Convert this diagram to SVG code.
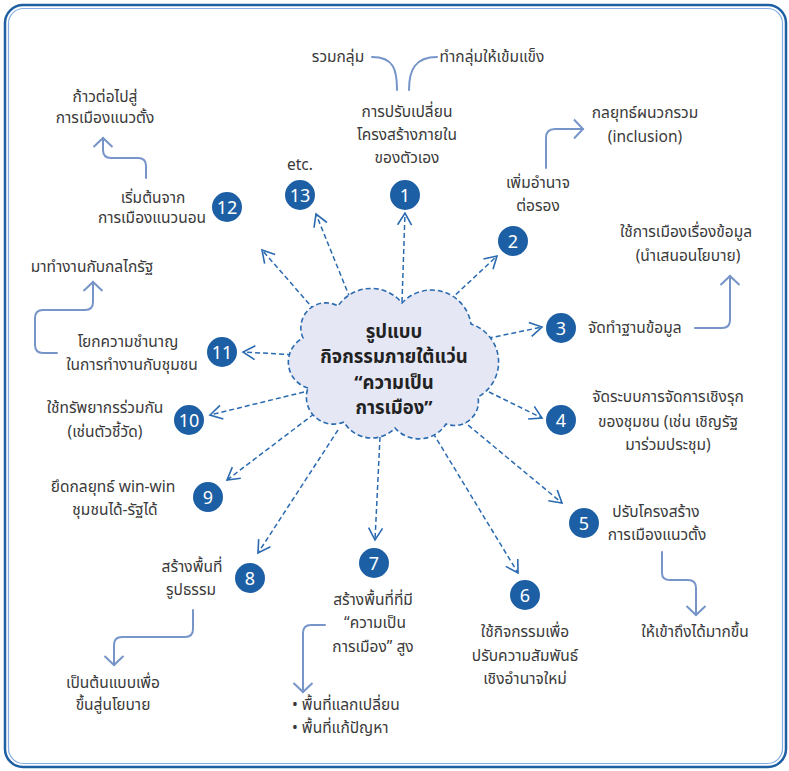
<svg xmlns="http://www.w3.org/2000/svg" width="789" height="771" viewBox="0 0 789 771">
<defs>
<style>
.t{font-family:"Noto Sans Thai","Noto Sans","DejaVu Sans",sans-serif;font-size:15.5px;fill:#3a3a3a;text-anchor:middle}
.ts{text-anchor:start}
.title{font-family:"Noto Sans Thai","Noto Sans","DejaVu Sans",sans-serif;font-size:18.5px;font-weight:bold;fill:#222;text-anchor:middle}
.num{font-family:"Noto Sans","Open Sans",sans-serif;font-size:18px;fill:#fff;text-anchor:middle}
.badge{fill:#1d5fa4}
.dash{fill:none;stroke:#2a6ab0;stroke-width:1.5;stroke-dasharray:5 3;marker-end:url(#ah)}
.solid{fill:none;stroke:#7795c9;stroke-width:2;stroke-linecap:round}
.arr{marker-end:url(#sh)}
</style>
<marker id="ah" markerUnits="userSpaceOnUse" markerWidth="20" markerHeight="20" viewBox="-14 -10 16 20" refX="0" refY="0" orient="auto">
<path d="M-12,-7 L0,0 L-12,7" fill="none" stroke="#2a6ab0" stroke-width="1.6"/>
</marker>
<marker id="sh" markerUnits="userSpaceOnUse" markerWidth="24" markerHeight="24" viewBox="-12 -12 14 24" refX="0" refY="0" orient="auto">
<path d="M-9,-9.5 L0,0 L-9,9.5" fill="none" stroke="#7795c9" stroke-width="2"/>
</marker>
</defs>
<rect x="0" y="0" width="789" height="771" fill="#fff"/>
<rect x="5" y="5" width="781" height="762" rx="18" fill="none" stroke="#1f5fa3" stroke-width="2.5"/>
<rect x="8.5" y="8.5" width="774" height="755" rx="15" fill="none" stroke="#86aee0" stroke-width="1.2"/>

<g id="connectors">
<path class="dash" d="M402,302 L405,213"/>
<path class="dash" d="M350,298 L316,214"/>
<path class="dash" d="M325,322 L262,250"/>
<path class="dash" d="M316,356 L243,352"/>
<path class="dash" d="M304,392 L210,415"/>
<path class="dash" d="M314,414 L227,480"/>
<path class="dash" d="M338,430 L258,553"/>
<path class="dash" d="M380,437 L375,540"/>
<path class="dash" d="M433,433 L518,573"/>
<path class="dash" d="M462,420 L562,503"/>
<path class="dash" d="M489,392 L542,418"/>
<path class="dash" d="M480,340 L542,327"/>
<path class="dash" d="M450,300 L497,256"/>
<path class="solid" d="M372,57 C394,57 397,70 397,90"/>
<path class="solid" d="M437,57 C415,57 409,70 409,90"/>
<path class="solid arr" d="M546,168 L546,138 Q546,129 555,129 L583,129"/>
<path class="solid arr" d="M146,178 L146,166 Q146,158 138,158 L111,158 Q103,158 103,150 L103,138"/>
<path class="solid arr" d="M695,328 L722,328 Q730,328 730,320 L730,276"/>
<path class="solid arr" d="M57,353 L43,353 Q35,353 35,345 L35,318 Q35,310 43,310 L85,310 Q93,310 93,302 L93,282"/>
<path class="solid arr" d="M662,552 L662,573 Q662,580 670,580 L688,580 Q696,580 696,588 L696,615"/>
<path class="solid arr" d="M193,610 L193,629 Q193,637 185,637 L122,637 Q114,637 114,645 L114,665"/>
<path class="solid arr" d="M325,625 L311,625 Q303,625 303,633 L303,692"/>
</g>

<g id="center">
<path d="M308,388 A27,27 0 0 1 303,338 A25,25 0 0 1 338,306 A40,40 0 0 1 402,303 A40,40 0 0 1 471,324 A40,40 0 0 1 478,397 A24,24 0 0 1 446,424 A32,32 0 0 1 395,428 A32,32 0 0 1 344,422 A27,27 0 0 1 308,388 Z" fill="#e5e7f4" stroke="#2a6ab0" stroke-width="1.6" stroke-dasharray="5 3"/>
<text class="title" x="394" y="338">รูปแบบ</text>
<text class="title" x="394" y="363">กิจกรรมภายใต้แว่น</text>
<text class="title" x="394" y="389">“ความเป็น</text>
<text class="title" x="394" y="414">การเมือง”</text>
</g>

<g id="n1">
<text class="t" x="338" y="62">รวมกลุ่ม</text>
<text class="t" x="492" y="62">ทำกลุ่มให้เข้มแข็ง</text>
<text class="t" x="407" y="117">การปรับเปลี่ยน</text>
<text class="t" x="407" y="140">โครงสร้างภายใน</text>
<text class="t" x="407" y="163">ของตัวเอง</text>
<circle class="badge" cx="405" cy="195" r="15"/><text class="num" x="405" y="201.5">1</text>
</g>
<g id="n2">
<text class="t" x="538" y="188">เพิ่มอำนาจ</text>
<text class="t" x="538" y="211">ต่อรอง</text>
<text class="t" x="645" y="118">กลยุทธ์ผนวกรวม</text>
<text class="t" x="645" y="142">(inclusion)</text>
<circle class="badge" cx="513" cy="241" r="15"/><text class="num" x="513" y="247.5">2</text>
</g>
<g id="n3">
<text class="t" x="686" y="237">ใช้การเมืองเรื่องข้อมูล</text>
<text class="t" x="688" y="261">(นำเสนอนโยบาย)</text>
<text class="t ts" x="588" y="333">จัดทำฐานข้อมูล</text>
<circle class="badge" cx="561" cy="328" r="15"/><text class="num" x="561" y="334.5">3</text>
</g>
<g id="n4">
<text class="t" x="668" y="402">จัดระบบการจัดการเชิงรุก</text>
<text class="t" x="668" y="427">ของชุมชน (เช่น เชิญรัฐ</text>
<text class="t" x="668" y="450">มาร่วมประชุม)</text>
<circle class="badge" cx="561" cy="420" r="15"/><text class="num" x="561" y="426.5">4</text>
</g>
<g id="n5">
<text class="t" x="656" y="517">ปรับโครงสร้าง</text>
<text class="t" x="657" y="540">การเมืองแนวตั้ง</text>
<text class="t" x="695" y="637">ให้เข้าถึงได้มากขึ้น</text>
<circle class="badge" cx="584" cy="523" r="15"/><text class="num" x="584" y="529.5">5</text>
</g>
<g id="n6">
<text class="t" x="525" y="637">ใช้กิจกรรมเพื่อ</text>
<text class="t" x="525" y="661">ปรับความสัมพันธ์</text>
<text class="t" x="525" y="684">เชิงอำนาจใหม่</text>
<circle class="badge" cx="525" cy="595" r="15"/><text class="num" x="525" y="601.5">6</text>
</g>
<g id="n7">
<text class="t" x="373" y="605">สร้างพื้นที่ที่มี</text>
<text class="t" x="375" y="628">“ความเป็น</text>
<text class="t" x="373" y="652">การเมือง” สูง</text>
<text class="t ts" x="292" y="710">•  พื้นที่แลกเปลี่ยน</text>
<text class="t ts" x="292" y="733">•  พื้นที่แก้ปัญหา</text>
<circle class="badge" cx="374" cy="563" r="15"/><text class="num" x="374" y="569.5">7</text>
</g>
<g id="n8">
<text class="t" x="192" y="572">สร้างพื้นที่</text>
<text class="t" x="191" y="595">รูปธรรม</text>
<text class="t" x="113" y="688">เป็นต้นแบบเพื่อ</text>
<text class="t" x="113" y="710">ขึ้นสู่นโยบาย</text>
<circle class="badge" cx="250" cy="578" r="15"/><text class="num" x="250" y="584.5">8</text>
</g>
<g id="n9">
<text class="t" x="113" y="492">ยึดกลยุทธ์ win-win</text>
<text class="t" x="115" y="515">ชุมชนได้-รัฐได้</text>
<circle class="badge" cx="208" cy="497" r="15"/><text class="num" x="208" y="503.5">9</text>
</g>
<g id="n10">
<text class="t" x="105" y="413">ใช้ทรัพยากรร่วมกัน</text>
<text class="t" x="105" y="437">(เช่นตัวชี้วัด)</text>
<circle class="badge" cx="189" cy="420" r="15"/><text class="num" x="189" y="426.5">10</text>
</g>
<g id="n11">
<text class="t" x="92" y="272">มาทำงานกับกลไกรัฐ</text>
<text class="t" x="128" y="347">โยกความชำนาญ</text>
<text class="t" x="132" y="370">ในการทำงานกับชุมชน</text>
<circle class="badge" cx="222" cy="352" r="15"/><text class="num" x="222" y="358.5">11</text>
</g>
<g id="n12">
<text class="t" x="105" y="102">ก้าวต่อไปสู่</text>
<text class="t" x="105" y="123">การเมืองแนวตั้ง</text>
<text class="t" x="153" y="203">เริ่มต้นจาก</text>
<text class="t" x="152" y="223">การเมืองแนวนอน</text>
<circle class="badge" cx="227" cy="207" r="15"/><text class="num" x="227" y="213.5">12</text>
</g>
<g id="n13">
<text class="t" x="300" y="170">etc.</text>
<circle class="badge" cx="300" cy="195" r="15"/><text class="num" x="300" y="201.5">13</text>
</g>
</svg>
